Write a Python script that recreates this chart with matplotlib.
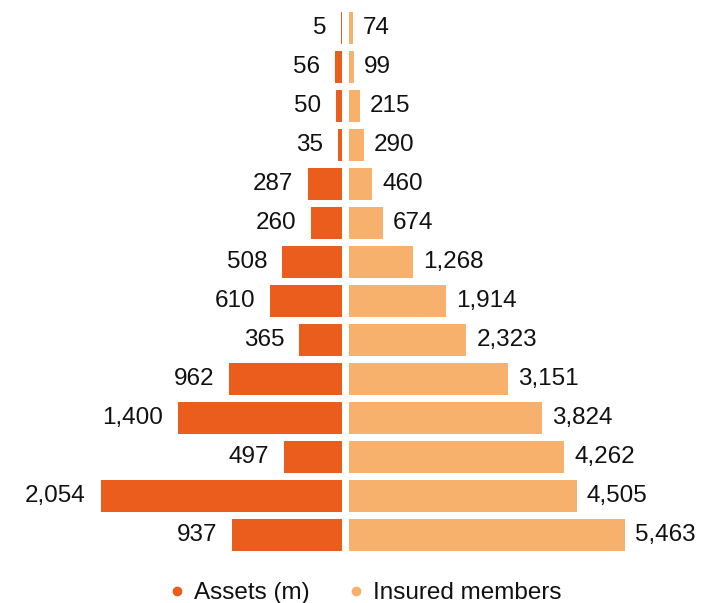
import matplotlib
matplotlib.use("Agg")
import matplotlib.pyplot as plt
from matplotlib.lines import Line2D

plt.rcParams['font.family'] = ['Liberation Sans', 'DejaVu Sans']

# rows from top to bottom
assets = [5, 56, 50, 35, 287, 260, 508, 610, 365, 962, 1400, 497, 2054, 937]
members = [74, 99, 215, 290, 460, 674, 1268, 1914, 2323, 3151, 3824, 4262, 4505, 5463]

dark = '#EB5D1C'
light = '#F8B06D'
txt = '#111111'
fs = 17.5

W, H = 718, 603
fig = plt.figure(figsize=(W / 100, H / 100), dpi=100)

bottom = (H - 554.5) / H
height = 546 / H
ax_l = fig.add_axes([0, bottom, 342 / W, height])
ax_r = fig.add_axes([349 / W, bottom, (W - 349) / W, height])

rows = list(range(len(assets)))

ax_l.barh(rows, assets, height=0.82, color=dark)
ax_l.set_xlim(2911, 0)
ax_r.barh(rows, members, height=0.82, color=light)
ax_r.set_xlim(0, 7307)

for ax in (ax_l, ax_r):
    ax.set_ylim(len(rows) - 0.5, -0.5)
    ax.axis('off')

for i, v in enumerate(assets):
    ax_l.annotate(f'{v:,}', (v, i), xytext=(-15, 0), textcoords='offset pixels',
                  ha='right', va='center', fontsize=fs, color=txt)
for i, v in enumerate(members):
    ax_r.annotate(f'{v:,}', (v, i), xytext=(10, 0), textcoords='offset pixels',
                  ha='left', va='center', fontsize=fs, color=txt)

handles = [Line2D([], [], marker='o', ls='', color=dark, markersize=6),
           Line2D([], [], marker='o', ls='', color=light, markersize=6)]
fig.legend(handles, ['Assets (m)', 'Insured members'], loc='center',
           bbox_to_anchor=(366 / W, 10 / H), ncol=2, frameon=False,
           fontsize=fs, handlelength=0.6, handletextpad=0.4, columnspacing=1.6,
           labelcolor=txt)

fig.savefig('out.png', dpi=100)
